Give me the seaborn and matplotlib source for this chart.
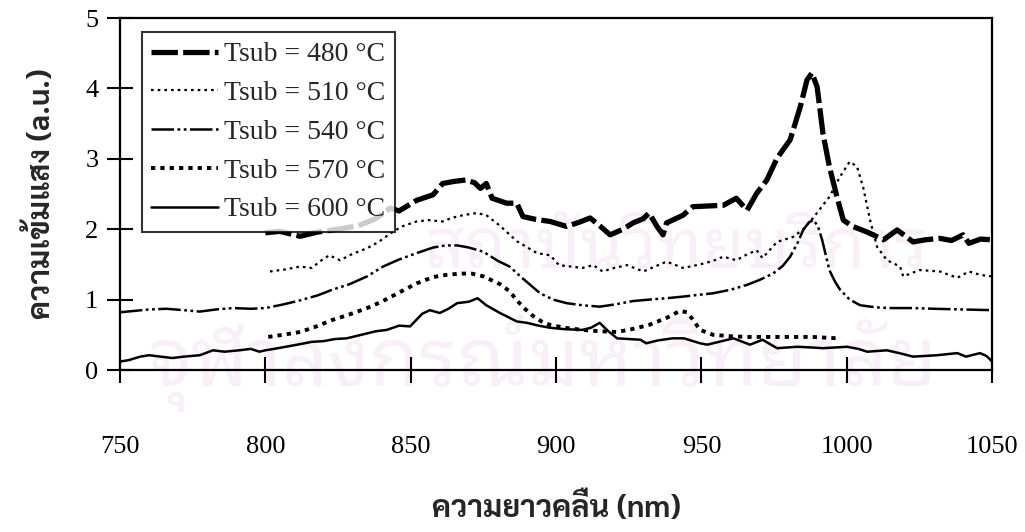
import numpy as np
import pandas as pd
import matplotlib
matplotlib.use("Agg")
import matplotlib.pyplot as plt
import seaborn as sns
from matplotlib import font_manager
from matplotlib.ft2font import FT2Font

# ---- spectra (wavelength in nm, intensity in a.u.) ----
x_480 = [800, 805, 812, 818, 825, 832, 838, 843, 846, 852, 857.7, 861, 865, 869, 872, 874, 876, 878,
         883, 886.5, 888.6, 893, 898, 903.6, 908, 911.7, 915, 918.6, 923, 926.5, 930, 932, 934.7, 936.8,
         938, 943.7, 947, 952, 957.5, 962, 965.7, 969, 972.5, 976, 980.5, 984, 986.3, 988, 989.8, 991.8,
         994, 996.6, 998.8, 1002, 1007, 1012.6, 1017.3, 1022.8, 1027, 1032, 1036, 1040, 1042, 1046, 1050]
y_480 = [1.95, 1.97, 1.90, 1.96, 2.00, 2.05, 2.15, 2.30, 2.26, 2.41, 2.49, 2.65, 2.68, 2.70, 2.66, 2.58,
         2.65, 2.44, 2.37, 2.37, 2.18, 2.14, 2.11, 2.04, 2.10, 2.16, 2.05, 1.92, 2.00, 2.09, 2.15, 2.23,
         2.04, 1.92, 2.09, 2.20, 2.32, 2.33, 2.34, 2.44, 2.27, 2.51, 2.70, 3.01, 3.27, 3.74, 4.12, 4.22,
         4.02, 3.36, 2.89, 2.46, 2.13, 2.04, 1.96, 1.85, 1.99, 1.82, 1.85, 1.87, 1.84, 1.92, 1.80, 1.86, 1.85]

x_510 = [801.6, 807, 812, 816, 819, 822, 825.7, 830, 835, 839, 843, 847, 852, 856, 861, 864, 868, 872.7,
         876, 880.7, 886.5, 893.5, 898, 901, 905, 909, 912.8, 916, 920, 924.4, 930, 934, 938, 943.7,
         949.5, 954, 957.5, 962, 966, 969, 971, 976, 981.5, 985, 988.4, 991, 994, 997.7, 1001, 1003.5,
         1005.6, 1008, 1010.4, 1013.8, 1018.3, 1019.4, 1025, 1032, 1038, 1042, 1046, 1050]
y_510 = [1.40, 1.43, 1.47, 1.45, 1.55, 1.63, 1.56, 1.65, 1.73, 1.82, 1.94, 2.04, 2.11, 2.13, 2.11, 2.16,
         2.20, 2.23, 2.20, 2.05, 1.83, 1.66, 1.63, 1.49, 1.47, 1.45, 1.49, 1.40, 1.45, 1.49, 1.40, 1.47,
         1.54, 1.45, 1.50, 1.55, 1.61, 1.56, 1.65, 1.70, 1.59, 1.82, 1.89, 2.00, 2.16, 2.30, 2.46, 2.75,
         2.96, 2.89, 2.60, 2.13, 1.75, 1.56, 1.47, 1.33, 1.42, 1.40, 1.31, 1.40, 1.35, 1.33]

x_540 = [750, 755, 760, 766, 772, 777.5, 783, 789, 795, 800, 806, 812, 818, 823, 829, 835, 840.5, 846,
         852, 857.7, 862, 866, 870, 875, 880, 884, 888, 894.5, 899, 903.6, 909, 915, 920, 926.5, 932,
         938, 943, 949.5, 954, 960, 965.7, 970, 974.6, 978, 980.5, 983, 985, 987, 988.5, 990, 991.5,
         994, 996, 997.7, 1001, 1004.6, 1010, 1015, 1022.8, 1030, 1040, 1050]
y_540 = [0.82, 0.84, 0.86, 0.87, 0.85, 0.83, 0.86, 0.88, 0.87, 0.88, 0.93, 0.99, 1.06, 1.14, 1.22, 1.33,
         1.47, 1.57, 1.66, 1.74, 1.77, 1.77, 1.74, 1.68, 1.55, 1.47, 1.32, 1.09, 1.00, 0.95, 0.92, 0.90,
         0.93, 0.98, 1.00, 1.02, 1.04, 1.07, 1.09, 1.14, 1.21, 1.28, 1.37, 1.48, 1.61, 1.80, 1.99, 2.10,
         2.13, 2.05, 1.85, 1.42, 1.25, 1.14, 1.00, 0.92, 0.89, 0.88, 0.88, 0.87, 0.86, 0.85]

x_570 = [801, 806, 812, 817, 823, 829, 835, 840, 846, 852, 857.7, 862, 867, 871, 875, 880.7, 884, 886.5,
         889, 892, 895, 898, 903, 909, 915, 921, 926, 932, 938, 942.6, 945, 947, 949.5, 954, 960, 965.7,
         977, 988, 997]
y_570 = [0.47, 0.50, 0.54, 0.61, 0.71, 0.79, 0.88, 0.97, 1.10, 1.23, 1.32, 1.35, 1.37, 1.37, 1.33, 1.22,
         1.12, 0.99, 0.88, 0.77, 0.69, 0.64, 0.60, 0.57, 0.55, 0.54, 0.58, 0.64, 0.74, 0.84, 0.82, 0.72,
         0.57, 0.50, 0.48, 0.47, 0.47, 0.47, 0.45]

x_600 = [750, 753, 757, 760, 764, 768, 772, 777.5, 782, 786, 791, 795, 798, 800, 803, 807, 811, 816, 820,
         824, 828, 831, 835, 838, 841.8, 846, 849.8, 854, 856.6, 860, 863, 866, 870, 873, 876, 880.7,
         886.5, 890, 894, 898, 903, 909, 912, 915, 918, 921, 925, 929, 931, 935, 940, 944, 949.5, 952,
         957, 961, 966.7, 971, 976, 983, 988, 991.8, 996, 1000, 1004, 1007, 1013.8, 1018, 1022.8, 1027,
         1031, 1038, 1041, 1045.8, 1048, 1050]
y_600 = [0.12, 0.14, 0.19, 0.21, 0.19, 0.17, 0.19, 0.21, 0.28, 0.26, 0.28, 0.30, 0.26, 0.28, 0.30, 0.33,
         0.36, 0.40, 0.41, 0.44, 0.45, 0.48, 0.52, 0.55, 0.57, 0.63, 0.62, 0.80, 0.85, 0.81, 0.87, 0.95,
         0.97, 1.02, 0.92, 0.81, 0.69, 0.67, 0.63, 0.60, 0.58, 0.57, 0.60, 0.67, 0.55, 0.45, 0.44, 0.43,
         0.38, 0.42, 0.45, 0.45, 0.38, 0.36, 0.41, 0.45, 0.36, 0.43, 0.31, 0.33, 0.32, 0.31, 0.32, 0.33,
         0.30, 0.26, 0.28, 0.24, 0.19, 0.20, 0.21, 0.24, 0.19, 0.24, 0.20, 0.12]

labels = ["Tsub = 480 °C", "Tsub = 510 °C", "Tsub = 540 °C", "Tsub = 570 °C", "Tsub = 600 °C"]
x_ticks = [750, 800, 850, 900, 950, 1000, 1050]
y_ticks = [0, 1, 2, 3, 4, 5]
x_title = "ความยาวคลื่น (nm)"
y_title = "ความเข้มแสง (a.u.)"
watermark = ["สถาบันวิทยบริการ", "จุฬาลงกรณ์มหาวิทยาลัย"]

series = [(x_480, y_480), (x_510, y_510), (x_540, y_540), (x_570, y_570), (x_600, y_600)]
styles = [
    dict(lw=3.8, ls=(0, (5, 1))),
    dict(lw=1.6, ls=(0, (1.2, 1.8))),
    dict(lw=1.8, ls=(0, (9, 1.4, 1.1, 1.4, 1.1, 1.4))),
    dict(lw=2.8, ls=(0, (1.1, 1.3))),
    dict(lw=1.8, ls="-"),
]

# ---- fonts: Latin in Times-like serif, Thai from an installed Thai face ----
def covers_thai(path):
    try:
        return FT2Font(path).get_char_index(ord("ค")) != 0
    except Exception:
        return False

thai_names = {f.name for f in font_manager.fontManager.ttflist if covers_thai(f.fname)}

def pick(prefs):
    for name in prefs:
        if name in thai_names:
            return name
    return sorted(thai_names)[0] if thai_names else "DejaVu Sans"

label_font = pick(["Sarabun", "Noto Sans Thai Looped", "Noto Sans Thai"])
mark_font = pick(["Noto Sans Thai Looped", "Sarabun", "Noto Sans Thai"])
serif = "Liberation Serif"

sns.set_style("ticks")
plt.rcParams["font.family"] = [serif, "DejaVu Sans"]

fig = plt.figure(figsize=(10.25, 5.32), dpi=100)

# faint library stamp, kept underneath everything else
mark_color = "#f9eff8"
fig.text(0.66, 0.53, watermark[0], family=[mark_font, "DejaVu Sans"], fontsize=50,
         color=mark_color, ha="center", va="center", zorder=-5)
fig.text(0.53, 0.318, watermark[1], family=[mark_font, "DejaVu Sans"], fontsize=58,
         color=mark_color, ha="center", va="center", zorder=-5)

ax = fig.add_axes([0.117, 0.3045, 0.851, 0.6615])
ax.patch.set_alpha(0)

for (xs, ys), lab, st in zip(series, labels, styles):
    df = pd.DataFrame({"wavelength": xs, "intensity": ys})
    sns.lineplot(data=df, x="wavelength", y="intensity", ax=ax, color="black",
                 linewidth=st["lw"], linestyle=st["ls"], label=lab,
                 estimator=None, sort=False, errorbar=None)

ax.set_xlim(750, 1050)
ax.set_ylim(0, 5)
ax.set_xticks(x_ticks)
ax.set_yticks(y_ticks)
ax.tick_params(axis="both", direction="inout", length=19, width=1.5, colors="black",
               labelsize=19)
ax.tick_params(axis="x", pad=38)
ax.tick_params(axis="y", pad=6)
for sp in ax.spines.values():
    sp.set_visible(True)
    sp.set_linewidth(1.6)
    sp.set_color("black")

ax.set_xlabel(x_title, family=[label_font, "DejaVu Sans"], fontsize=22, fontweight="bold",
              labelpad=25)
ax.set_ylabel(y_title, family=[label_font, "DejaVu Sans"], fontsize=22, fontweight="bold",
              labelpad=20)

leg = ax.legend(loc="upper left", bbox_to_anchor=(0.025, 0.96), frameon=True, fancybox=False,
                fontsize=20, handlelength=2.4, handletextpad=0.2, labelspacing=0.48,
                borderpad=0.35, borderaxespad=0)
leg.get_frame().set_edgecolor("black")
leg.get_frame().set_linewidth(1.5)

fig.savefig("out.png", dpi=100, facecolor="white")
